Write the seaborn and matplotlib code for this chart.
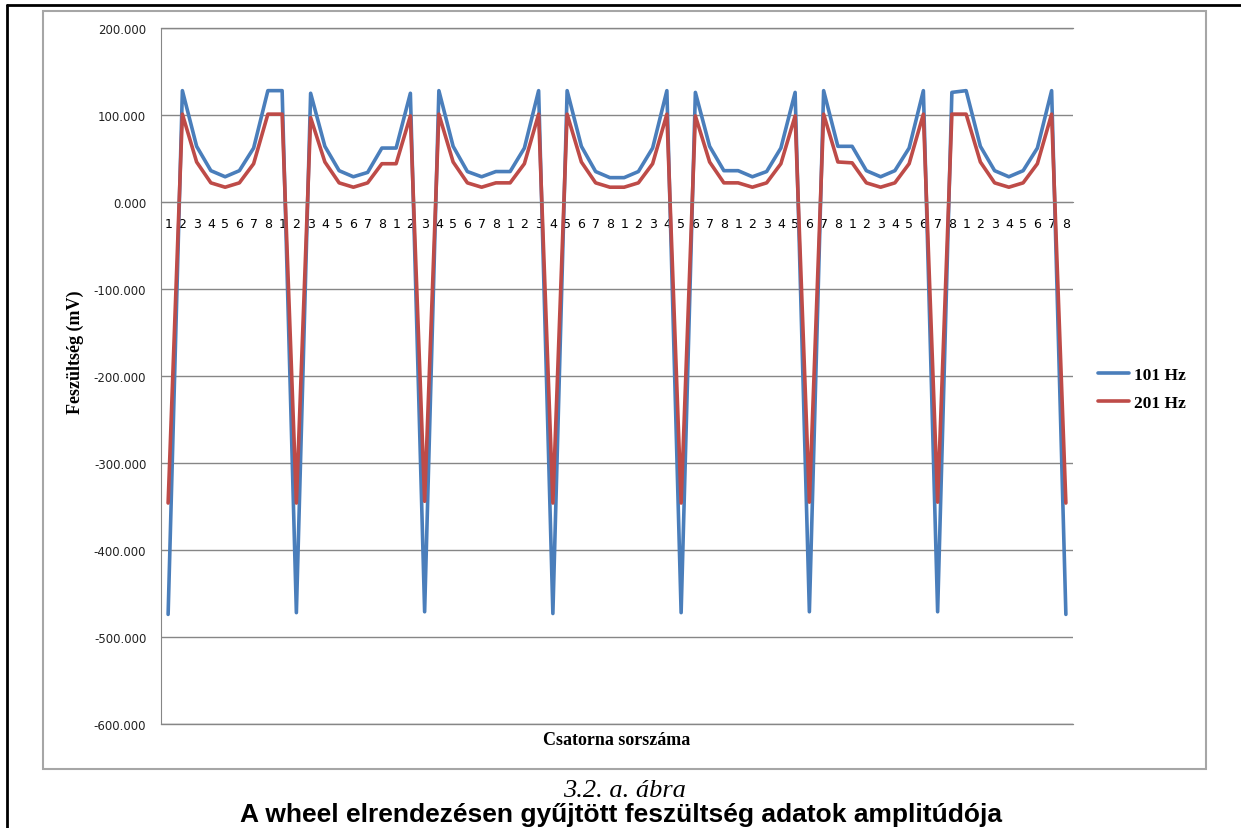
import matplotlib
matplotlib.use("Agg")
import matplotlib.pyplot as plt
from matplotlib.lines import Line2D
from matplotlib.patches import Rectangle
from matplotlib.ticker import FuncFormatter, MultipleLocator
import pandas as pd
import seaborn as sns

# channel number under each measurement point (8 channels, 8 rounds)
channel_labels = [1, 2, 3, 4, 5, 6, 7, 8] * 8

# amplitude values (mV)
hz101 = [-474, 128, 64, 36, 29, 36, 62, 128, 128,
         -472, 125, 64, 36, 29, 34, 62, 62, 125,
         -471, 128, 64, 35, 29, 35, 35, 62, 128,
         -473, 128, 64, 35, 28, 28, 35, 62, 128,
         -472, 126, 64, 36, 36, 29, 35, 62, 126,
         -471, 128, 64, 64, 36, 29, 36, 62, 128,
         -471, 126, 128, 64, 36, 29, 36, 62, 128,
         -474]
hz201 = [-346, 101, 46, 22, 17, 22, 44, 101, 101,
         -346, 97, 46, 22, 17, 22, 44, 44, 99,
         -344, 101, 46, 22, 17, 22, 22, 44, 101,
         -346, 101, 46, 22, 17, 17, 22, 44, 101,
         -346, 99, 46, 22, 22, 17, 22, 44, 99,
         -345, 101, 46, 45, 22, 17, 22, 44, 101,
         -345, 101, 101, 46, 22, 17, 22, 44, 101,
         -346]

series_names = ["101 Hz", "201 Hz"]
colors = ["#4a7ebb", "#be4b48"]

df = pd.DataFrame({
    "pos": list(range(len(hz101))) * 2,
    "value": hz101 + hz201,
    "series": [series_names[0]] * len(hz101) + [series_names[1]] * len(hz201),
})

W, H = 1241, 829
fig = plt.figure(figsize=(W / 100, H / 100), dpi=100)
sns.set_style("white")

ax = fig.add_axes([161 / W, 1 - 725 / H, (1073 - 161) / W, (725 - 29) / H])
sns.lineplot(data=df, x="pos", y="value", hue="series", palette=colors,
             estimator=None, sort=False, lw=2.6, ax=ax, legend=False)
for ln in ax.get_lines():
    ln.set_solid_joinstyle("round")

ax.set_xlim(-0.5, len(hz101) - 0.5)
ax.set_ylim(-600, 200)
ax.yaxis.set_major_locator(MultipleLocator(100))
ax.yaxis.set_major_formatter(FuncFormatter(lambda v, p: f"{v:.3f}"))
ax.grid(axis="y", color="#868686", lw=1.0)
ax.set_axisbelow(True)
# bottom gridline sits on the axes edge, keep it unclipped
ax.axhline(-600, color="#868686", lw=1.0, clip_on=False, zorder=0.5)
ax.axhline(200, color="#868686", lw=1.0, clip_on=False, zorder=0.5)

ax.set_xticks(range(len(channel_labels)))
ax.set_xticklabels([str(c) for c in channel_labels])
ax.tick_params(axis="x", length=0, pad=10.5, labelsize=9, labelcolor="black")
ax.tick_params(axis="y", length=3.6, width=1, color="#868686", pad=7,
               labelsize=8.5, labelcolor="#222222")
for s in ["top", "right"]:
    ax.spines[s].set_visible(False)
ax.spines["bottom"].set_position(("data", 0))
ax.spines["bottom"].set_color("#868686")
ax.spines["left"].set_color("#868686")
ax.set_xlabel("")
ax.set_ylabel("")

serif = ["Liberation Serif", "DejaVu Serif"]
fig.text(617 / W, 1 - 741 / H, "Csatorna sorszáma", ha="center", va="center",
         family=serif, weight="bold", fontsize=13, color="black")
fig.text(75 / W, 1 - 352 / H, "Feszültség (mV)", ha="center", va="center",
         rotation=90, family=serif, weight="bold", fontsize=13, color="black")

handles = [Line2D([], [], color=c, lw=2.6) for c in colors]
leg = fig.legend(handles, series_names, loc="center left",
                 bbox_to_anchor=(1098 / W, 1 - 390 / H), frameon=False,
                 prop={"family": serif, "weight": "bold", "size": 12.5},
                 handlelength=1.8, handletextpad=0.25, labelspacing=0.7,
                 borderpad=0, borderaxespad=0)
for t in leg.get_texts():
    t.set_color("black")

# Excel chart frame
fig.patches.append(Rectangle((43 / W, 1 - 770 / H), (1206 - 43) / W, (770 - 12) / H,
                             transform=fig.transFigure, fill=False,
                             edgecolor="#a6a6a6", lw=1.5))
# page frame lines
fig.add_artist(Line2D([7 / W, 1], [1 - 6 / H, 1 - 6 / H], transform=fig.transFigure,
                      color="black", lw=2))
fig.add_artist(Line2D([7 / W, 7 / W], [1 - 6 / H, 0], transform=fig.transFigure,
                      color="black", lw=2))

fig.text(624 / W, 1 - 797 / H, "3.2. a. ábra", ha="center", va="baseline",
         family=serif, style="italic", fontsize=19, color="black")
fig.text(621 / W, 1 - 822 / H, "A wheel elrendezésen gyűjtött feszültség adatok amplitúdója",
         ha="center", va="baseline", family=["Liberation Sans", "DejaVu Sans"],
         weight="bold", fontsize=19, color="black")

fig.savefig("out.png", dpi=100)
